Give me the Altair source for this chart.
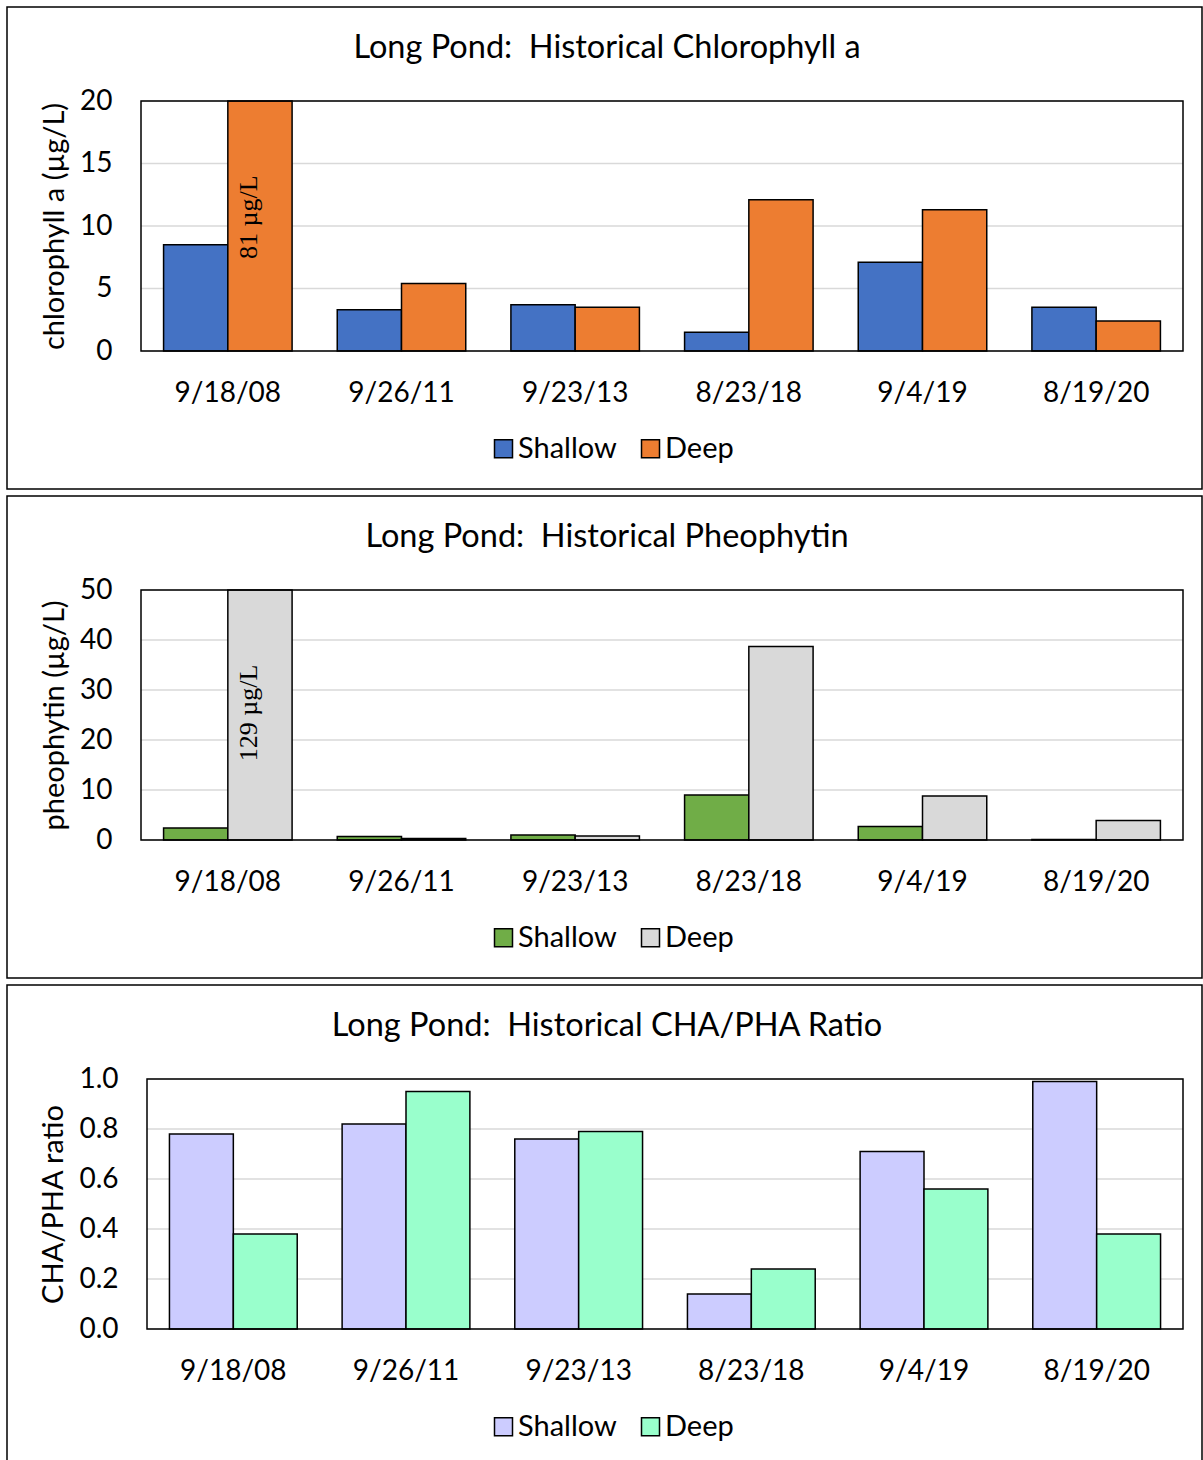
import altair as alt
import pandas as pd

dates = ["9/18/08", "9/26/11", "9/23/13", "8/23/18", "9/4/19", "8/19/20"]
series = ["Shallow", "Deep"]

chl_shallow = [8.5, 3.3, 3.7, 1.5, 7.1, 3.5]
chl_deep = [81, 5.4, 3.5, 12.1, 11.3, 2.4]
pheo_shallow = [2.4, 0.7, 1.0, 9.0, 2.7, 0.1]
pheo_deep = [129, 0.3, 0.8, 38.7, 8.8, 3.9]
ratio_shallow = [0.78, 0.82, 0.76, 0.14, 0.71, 0.99]
ratio_deep = [0.38, 0.95, 0.79, 0.24, 0.56, 0.38]

panel_titles = [
    "Long Pond:\u00a0 Historical Chlorophyll a",
    "Long Pond:\u00a0 Historical Pheophytin",
    "Long Pond:\u00a0 Historical CHA/PHA Ratio",
]
y_titles = ["chlorophyll a (µg/L)", "pheophytin (µg/L)", "CHA/PHA ratio"]
y_ticks = [[0, 5, 10, 15, 20], [0, 10, 20, 30, 40, 50], [0, 0.2, 0.4, 0.6, 0.8, 1.0]]
y_max = [20, 50, 1.0]
y_formats = ["d", "d", ".1f"]
colors = [["#4472C4", "#ED7D31"], ["#70AD47", "#D9D9D9"], ["#CCCCFF", "#99FFCC"]]
annot_labels = ["81 µg/L", "129 µg/L", None]
annot_y = [10.7, 25.4, None]

FONT = "Lato"
FS = 28
W = 1042
H = 250


def make_panel(i, shallow, deep, inset):
    rows = []
    for d, s, dp in zip(dates, shallow, deep):
        rows.append({"date": d, "series": "Shallow", "value": s})
        rows.append({"date": d, "series": "Deep", "value": dp})
    df = pd.DataFrame(rows)
    ydom = alt.Scale(domain=[0, y_max[i]], clamp=True, nice=False)

    xs = alt.X("date:N", sort=dates,
               scale=alt.Scale(paddingInner=0.26, paddingOuter=0.13, range=[inset, W]),
               axis=alt.Axis(title=None, labelAngle=0, labelFont=FONT, labelFontSize=FS,
                             labelColor="black", labelPadding=28, domain=False,
                             ticks=False, tickSize=0, grid=False))
    xo = alt.XOffset("series:N", sort=series)
    ys = alt.Y("value:Q", scale=ydom,
               axis=alt.Axis(values=y_ticks[i], format=y_formats[i], title=y_titles[i],
                             titleFont=FONT, titleFontSize=29, titleFontWeight="normal",
                             titleColor="black", titlePadding=10,
                             labelFont=FONT, labelFontSize=FS, labelColor="black",
                             labelPadding=29 - inset, domain=False, ticks=False, tickSize=0,
                             grid=False))

    bars = alt.Chart(df).mark_bar(stroke="black", strokeWidth=1.5, opacity=1).encode(
        x=xs, xOffset=xo, y=ys,
        color=alt.Color("series:N", sort=series,
                        scale=alt.Scale(domain=series, range=colors[i]),
                        legend=alt.Legend(title=None, orient="none", direction="horizontal",
                                          legendX=348, legendY=333,
                                          symbolType="square", symbolSize=324,
                                          symbolStrokeColor="black", symbolStrokeWidth=1.5,
                                          symbolOpacity=1,
                                          labelFont=FONT, labelFontSize=29, labelColor="black",
                                          labelOffset=0, columnPadding=19, padding=0)),
    )

    grid = alt.Chart(pd.DataFrame({"tick": y_ticks[i]})).mark_rule(
        color="#d9d9d9", strokeWidth=1.5
    ).encode(y=alt.Y("tick:Q", scale=ydom), x=alt.value(inset), x2=alt.value(W))

    box = alt.Chart(alt.Data(values=[{}])).mark_rect(
        fillOpacity=0, stroke="black", strokeWidth=1.5
    ).encode(x=alt.value(-134), x2=alt.value(1061), y=alt.value(-94), y2=alt.value(388))

    frame = alt.Chart(alt.Data(values=[{}])).mark_rect(
        fillOpacity=0, stroke="black", strokeWidth=1.5
    ).encode(x=alt.value(inset), x2=alt.value(W), y=alt.value(0), y2=alt.value(H))

    title = alt.Chart(alt.Data(values=[{}])).mark_text(
        text=panel_titles[i], font=FONT, fontSize=32.5, color="black",
        align="center", baseline="middle",
    ).encode(x=alt.value(466), y=alt.value(-53))

    layers = [box, grid, bars, frame]
    if annot_labels[i] is not None:
        adf = pd.DataFrame([{"date": dates[0], "series": "Deep",
                             "value": annot_y[i], "label": annot_labels[i]}])
        annot = alt.Chart(adf).mark_text(
            font="Liberation Serif", fontSize=26, color="black", angle=270,
            align="center", baseline="middle", dy=-11,
        ).encode(x=alt.X("date:N", sort=dates), xOffset=alt.XOffset("series:N", sort=series),
                 y="value:Q", text="label:N")
        layers.append(annot)
    layers.append(title)
    return alt.layer(*layers).properties(width=W, height=H)


p1 = make_panel(0, chl_shallow, chl_deep, 0)
p2 = make_panel(1, pheo_shallow, pheo_deep, 0)
p3 = make_panel(2, ratio_shallow, ratio_deep, 6)

chart = alt.concat(p1, p2, p3, columns=1, spacing=5, bounds="full").resolve_scale(
    color="independent", x="independent", y="independent", xOffset="independent"
).properties(
    padding={"left": 6, "top": 6, "right": 0, "bottom": 0},
    background="white",
).configure_view(strokeOpacity=0)

chart.save("out.html", embed_options={"renderer": "svg", "actions": False})
